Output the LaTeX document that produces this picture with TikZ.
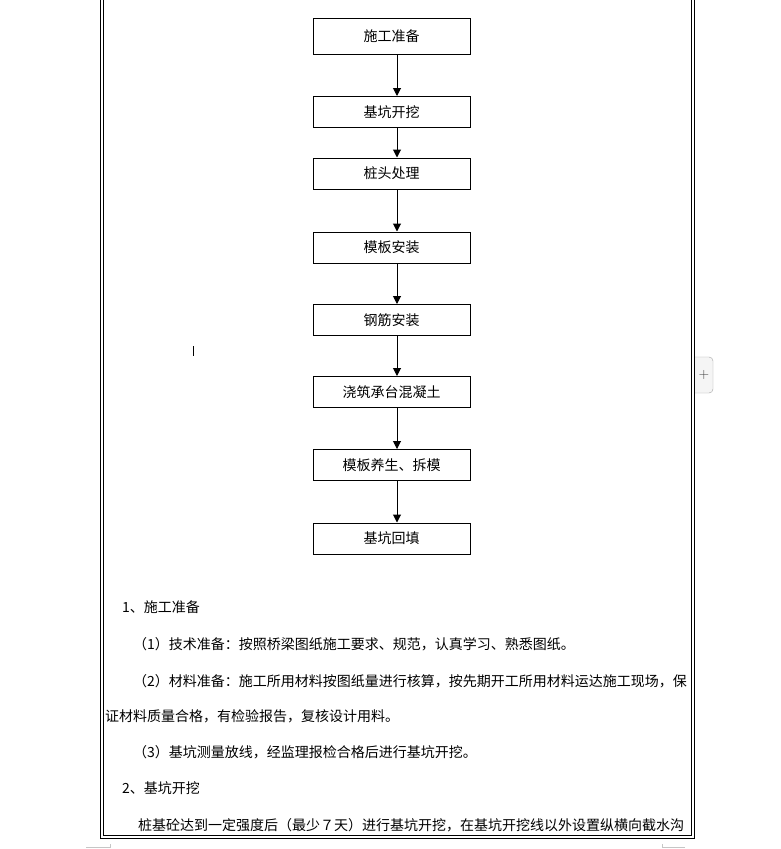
\documentclass[tikz,border=0pt]{standalone}
\usepackage{fontspec}
\newfontfamily\cjk{Noto Sans CJK SC}
\usetikzlibrary{arrows.meta}
\tikzset{
  stepbox/.style={draw=black, line width=1pt, minimum width=157pt, minimum height=31pt, inner sep=0pt,
    font=\cjk\fontsize{14pt}{14pt}\selectfont},
  flow/.style={line width=1pt, -{Triangle[length=8pt,width=8pt]}},
  para/.style={anchor=west, inner sep=0pt, font=\cjk\fontsize{14pt}{14pt}\selectfont},
  frameline/.style={line width=1pt, black},
  cornermark/.style={line width=1pt, gray!45}
}
\begin{document}
\begin{tikzpicture}[x=1pt,y=-1pt]
\useasboundingbox[fill=white] (0,0) rectangle (780,849);
% page frame (double line)
\draw[frameline] (100,0) -- (100,838) -- (694,838) -- (694,0);
\draw[frameline] (103,0) -- (103,835) -- (691,835) -- (691,0);
% corner marks
\draw[cornermark] (86,847.5) -- (110,847.5) -- (110,844);
\draw[cornermark] (685,847.5) -- (662,847.5) -- (662,844);
% side tab
\draw[gray!70, fill=gray!8, rounded corners=4pt] (695,357) -- (713,357) -- (713,393) -- (695,393);
\node[gray!50!black, font=\sffamily\fontsize{14pt}{14pt}\selectfont, inner sep=0pt] (plus) at (704,375) {+};
% text cursor
\draw[line width=1pt] (193,346) -- (193,356);
% flow chart
\node[stepbox, minimum height=36pt] (b1) at (391.5,36) {施工准备};
\node[stepbox] (b2) at (391.5,112) {基坑开挖};
\node[stepbox] (b3) at (391.5,173.5) {桩头处理};
\node[stepbox] (b4) at (391.5,247.5) {模板安装};
\node[stepbox] (b5) at (391.5,320) {钢筋安装};
\node[stepbox] (b6) at (391.5,392) {浇筑承台混凝土};
\node[stepbox] (b7) at (391.5,465) {模板养生、拆模};
\node[stepbox] (b8) at (391.5,538.5) {基坑回填};
\foreach \a/\b in {b1/b2,b2/b3,b3/b4,b4/b5,b5/b6,b6/b7,b7/b8}
  \draw[flow] ([xshift=5.5pt]\a.south) -- ([xshift=5.5pt]\b.north);
% body text
\node[para] (t1) at (122,607) {1、施工准备};
\node[para] (t2) at (133,644) {（1）技术准备：按照桥梁图纸施工要求、规范，认真学习、熟悉图纸。};
\node[para] (t3) at (133,681) {（2）材料准备：施工所用材料按图纸量进行核算，按先期开工所用材料运达施工现场，保};
\node[para] (t4) at (105,716) {证材料质量合格，有检验报告，复核设计用料。};
\node[para] (t5) at (133,752) {（3）基坑测量放线，经监理报检合格后进行基坑开挖。};
\node[para] (t6) at (122,788) {2、基坑开挖};
\node[para] (t7) at (138,825) {桩基砼达到一定强度后（最少７天）进行基坑开挖，在基坑开挖线以外设置纵横向截水沟};
\end{tikzpicture}
\end{document}
